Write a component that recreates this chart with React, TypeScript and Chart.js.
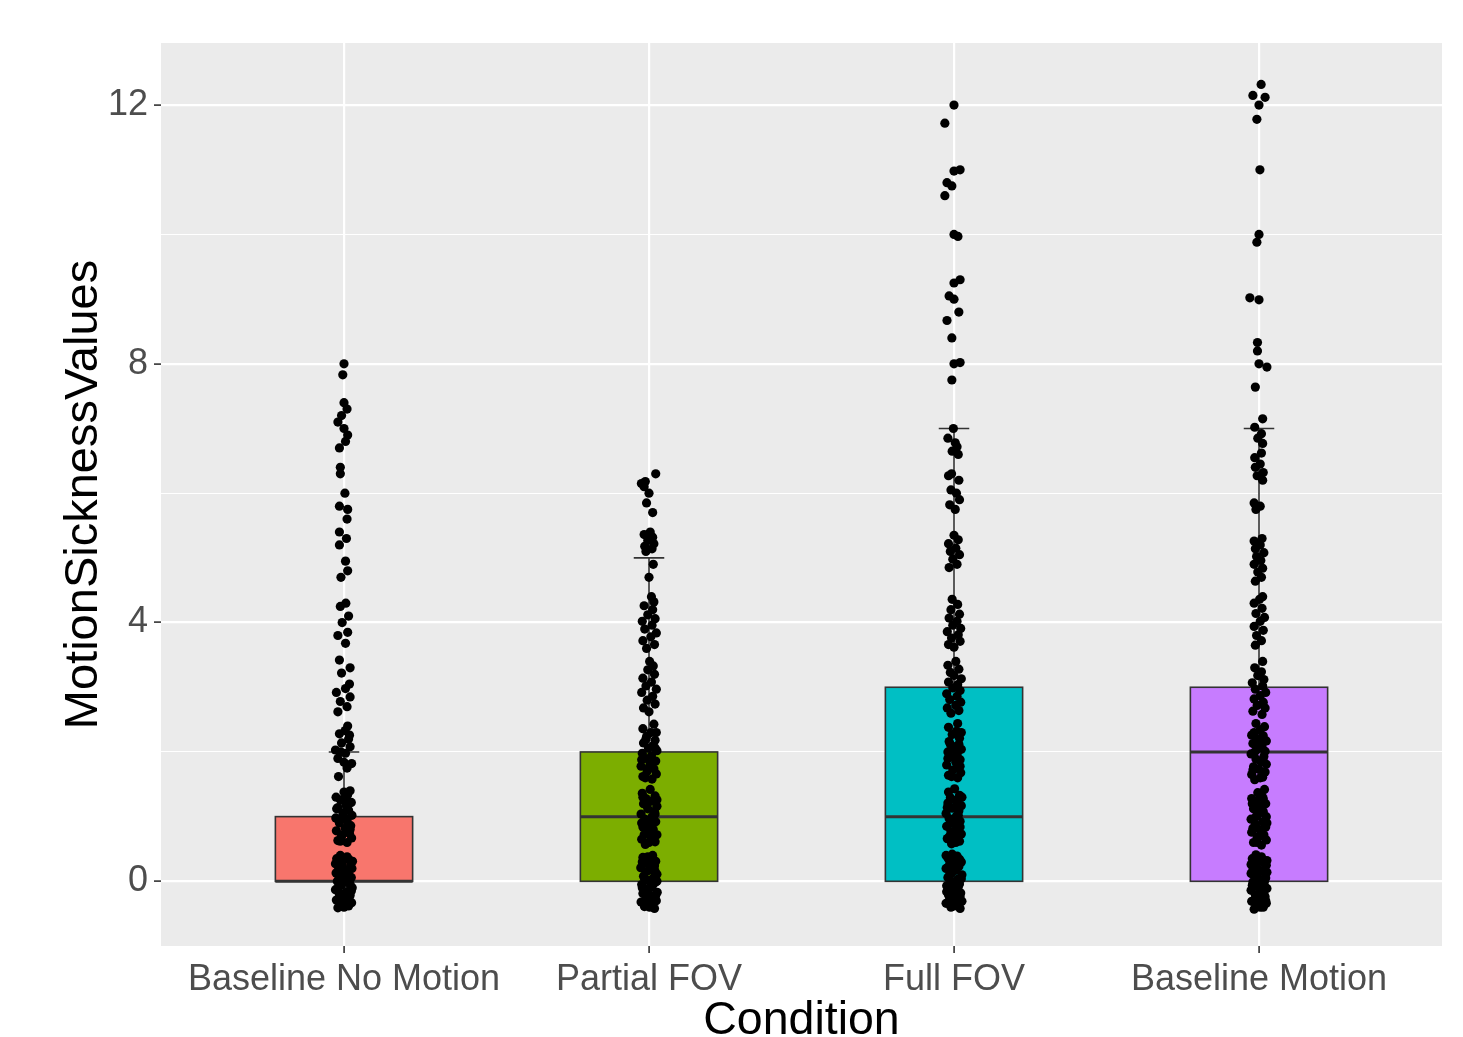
import React, { useEffect, useRef } from 'react';
import { Chart, registerables } from 'chart.js';

Chart.register(...registerables);

// ---------- data ----------
const categories = ['Baseline No Motion', 'Partial FOV', 'Full FOV', 'Baseline Motion'];
const boxColors = ['#F8766D', '#7CAE00', '#00BFC4', '#C77CFF'];
const whiskerLow = [0, 0, 0, 0];
const q1 = [0, 0, 0, 0];
const medians = [0, 1, 1, 2];
const q3 = [1, 2, 3, 3];
const whiskerHigh = [2, 5, 7, 7];
const yTickValues = [0, 2, 4, 6, 8, 10, 12];
const yLabelledTicks = [0, 4, 8, 12];
const xTitle = 'Condition';
const yTitle = 'MotionSicknessValues';

// jittered observations: [horizontal jitter in category units, value]
const baselineNoMotionPoints: [number, number][] = [
  [-0.02, -0.41], [0.015, -0.38], [-0.005, -0.35], [0.025, -0.33], [-0.025, -0.29], [0.005, -0.26], [0.02, -0.22], [-0.015, -0.2],
  [0.01, -0.16], [-0.028, -0.13], [0.027, -0.1], [-0.008, -0.06], [0.018, -0.03], [-0.022, 0.0], [0.006, 0.03], [0.024, 0.06],
  [-0.012, 0.09], [-0.026, 0.13], [0.014, 0.16], [0.001, 0.19], [-0.018, 0.22], [0.022, 0.26], [-0.006, 0.29], [0.028, 0.31],
  [-0.024, 0.35], [0.01, 0.38], [-0.012, 0.4], [0.02, -0.05],
  [0.0, -0.4], [-0.01, -0.3], [0.015, -0.24], [-0.02, -0.11], [0.024, -0.15], [0.0, -0.19], [-0.016, 0.05], [0.01, 0.11],
  [0.026, 0.2], [-0.008, 0.24], [0.016, 0.34], [-0.028, 0.27],
  [0.01, 0.6], [-0.02, 0.63], [0.025, 0.67], [-0.008, 0.7], [0.018, 0.74], [-0.025, 0.78], [0.004, 0.82], [0.022, 0.86],
  [-0.015, 0.9], [0.01, 0.94], [-0.027, 0.98], [0.026, 1.02], [-0.004, 1.06], [0.015, 1.1], [-0.02, 1.14], [0.006, 1.18],
  [0.024, 1.22], [-0.012, 1.26], [-0.026, 1.3], [0.012, 1.34], [0.0, 1.38], [0.02, 1.4],
  [-0.012, 0.62], [0.02, 0.8], [-0.02, 0.96], [0.0, 1.0], [0.016, 1.2], [-0.024, 1.12], [0.006, 1.3], [-0.006, 0.72],
  [-0.018, 1.62], [0.01, 1.75], [0.025, 1.82], [-0.02, 1.9], [0.005, 1.98], [-0.028, 2.03], [0.02, 2.08], [-0.008, 2.14],
  [0.015, 2.2], [-0.015, 2.28], [0.004, 2.33], [0.012, 2.4], [0.0, 1.84], [-0.01, 2.0], [0.018, 2.26],
  [-0.02, 2.62], [0.01, 2.7], [-0.012, 2.78], [0.02, 2.85], [-0.025, 2.92], [0.005, 2.98], [0.018, 3.05], [-0.008, 3.22],
  [0.02, 3.3], [-0.015, 3.42],
  [0.005, 3.68], [-0.02, 3.8], [0.012, 3.85], [-0.006, 4.0], [0.015, 4.1], [-0.012, 4.25], [0.006, 4.3],
  [-0.01, 4.7], [0.012, 4.8], [0.005, 4.95], [-0.015, 5.2], [0.008, 5.3], [-0.015, 5.4],
  [0.01, 5.6], [0.012, 5.75], [-0.015, 5.8], [0.003, 6.0], [-0.012, 6.3], [-0.012, 6.4],
  [-0.015, 6.7], [0.005, 6.8], [0.012, 6.9], [0.0, 7.0], [-0.02, 7.1], [-0.008, 7.2], [0.01, 7.3], [0.0, 7.4],
  [-0.004, 7.83], [0.0, 8.0],
];

const partialFovPoints: [number, number][] = [
  [0.018, -0.42], [-0.015, -0.39], [0.006, -0.36], [-0.026, -0.32], [0.024, -0.3], [-0.004, -0.27], [0.012, -0.23], [-0.02, -0.19],
  [0.027, -0.17], [-0.01, -0.12], [0.008, -0.09], [-0.024, -0.05], [0.02, -0.02], [-0.002, 0.01], [0.014, 0.05], [-0.018, 0.08],
  [0.026, 0.11], [-0.008, 0.15], [0.004, 0.18], [-0.027, 0.21], [0.018, 0.24], [-0.012, 0.28], [0.022, 0.31], [0.0, 0.34],
  [-0.02, 0.37], [0.012, 0.4], [-0.006, -0.15], [0.016, 0.2],
  [0.002, -0.4], [-0.012, -0.3], [0.022, -0.22], [-0.022, -0.1], [0.012, -0.06], [0.0, -0.2], [-0.014, 0.03], [0.02, 0.15],
  [-0.022, 0.3], [0.008, 0.27], [-0.004, 0.38], [0.026, 0.0],
  [-0.012, 0.57], [0.02, 0.61], [-0.024, 0.65], [0.006, 0.69], [0.026, 0.72], [-0.006, 0.76], [0.014, 0.8], [-0.02, 0.84],
  [0.002, 0.88], [0.022, 0.92], [-0.014, 0.96], [0.01, 1.0], [-0.026, 1.04], [0.018, 1.08], [-0.004, 1.12], [0.026, 1.16],
  [-0.018, 1.2], [0.008, 1.24], [-0.01, 1.28], [0.02, 1.32], [-0.022, 1.36], [0.004, 1.42],
  [0.0, 0.6], [-0.016, 0.72], [0.012, 0.9], [-0.024, 0.9], [0.02, 1.04], [-0.008, 1.18], [0.026, 1.26], [-0.02, 1.3],
  [0.01, 1.58], [-0.02, 1.62], [0.024, 1.66], [-0.006, 1.7], [0.016, 1.74], [-0.026, 1.78], [0.004, 1.82], [0.022, 1.86],
  [-0.014, 1.9], [0.008, 1.94], [-0.022, 1.98], [0.026, 2.02], [-0.002, 2.06], [0.014, 2.1], [-0.018, 2.14], [0.02, 2.18],
  [-0.008, 2.24], [0.006, 2.3], [-0.02, 2.36], [0.016, 2.43],
  [-0.012, 1.6], [0.0, 1.76], [-0.024, 1.88], [0.02, 2.06], [-0.01, 2.2], [0.024, 2.3],
  [0.0, 2.62], [-0.018, 2.68], [0.02, 2.74], [-0.006, 2.8], [0.012, 2.86], [-0.024, 2.92], [0.024, 2.97], [-0.01, 3.02],
  [0.008, 3.08], [-0.02, 3.14], [0.018, 3.2], [-0.004, 3.27], [0.014, 3.33], [0.002, 3.4],
  [-0.008, 3.6], [0.018, 3.66], [-0.02, 3.72], [0.006, 3.78], [0.024, 3.84], [-0.014, 3.9], [0.01, 3.96], [-0.022, 4.02],
  [0.02, 4.06], [-0.004, 4.12], [0.012, 4.2], [-0.016, 4.26], [0.016, 4.32], [0.008, 4.4],
  [0.0, 4.7], [0.014, 4.9], [-0.01, 5.1], [0.01, 5.14], [-0.014, 5.18], [0.016, 5.22], [-0.004, 5.27], [0.012, 5.32],
  [-0.016, 5.36], [0.004, 5.4],
  [0.012, 5.7], [-0.008, 5.85], [0.0, 6.0], [-0.016, 6.1], [-0.025, 6.15], [-0.012, 6.18], [0.022, 6.3],
];

const fullFovPoints: [number, number][] = [
  [0.02, -0.42], [-0.01, -0.4], [0.008, -0.37], [-0.026, -0.34], [0.026, -0.31], [-0.004, -0.28], [0.014, -0.25], [-0.018, -0.21],
  [0.022, -0.18], [-0.012, -0.14], [0.004, -0.11], [-0.024, -0.07], [0.018, -0.04], [-0.002, -0.01], [0.012, 0.03], [-0.02, 0.06],
  [0.026, 0.1], [-0.008, 0.13], [0.006, 0.17], [-0.026, 0.2], [0.016, 0.23], [-0.014, 0.27], [0.024, 0.3], [0.002, 0.33],
  [-0.02, 0.36], [0.01, 0.39], [-0.006, 0.42], [0.018, -0.3],
  [0.0, -0.38], [-0.016, -0.3], [0.02, -0.24], [-0.024, -0.16], [0.014, -0.08], [-0.008, -0.04], [0.024, 0.04], [-0.014, 0.1],
  [0.0, 0.22], [0.018, 0.34], [-0.026, 0.4], [0.008, -0.18],
  [-0.008, 0.58], [0.018, 0.62], [-0.022, 0.66], [0.004, 0.7], [0.024, 0.73], [-0.01, 0.77], [0.012, 0.81], [-0.024, 0.85],
  [0.0, 0.89], [0.02, 0.93], [-0.016, 0.97], [0.008, 1.01], [-0.026, 1.05], [0.016, 1.09], [-0.006, 1.13], [0.024, 1.17],
  [-0.02, 1.21], [0.006, 1.25], [-0.012, 1.29], [0.018, 1.33], [-0.018, 1.38], [0.002, 1.43],
  [0.006, 0.6], [-0.014, 0.7], [0.02, 0.84], [-0.006, 0.94], [0.014, 1.02], [-0.022, 1.14], [0.01, 1.2], [0.026, 1.3],
  [0.012, 1.6], [-0.018, 1.64], [0.022, 1.68], [-0.004, 1.72], [0.014, 1.76], [-0.024, 1.8], [0.006, 1.84], [0.02, 1.88],
  [-0.012, 1.92], [0.01, 1.96], [-0.02, 2.0], [0.024, 2.04], [0.0, 2.08], [0.016, 2.12], [-0.016, 2.16], [0.018, 2.21],
  [-0.006, 2.27], [0.008, 2.32], [-0.018, 2.38], [0.012, 2.44],
  [-0.008, 1.62], [0.02, 1.78], [-0.02, 1.9], [0.006, 2.02], [-0.012, 2.12], [0.024, 2.3],
  [-0.01, 2.6], [0.016, 2.64], [-0.022, 2.68], [0.006, 2.72], [0.022, 2.77], [-0.014, 2.81], [0.01, 2.86], [-0.024, 2.9],
  [0.02, 2.95], [-0.004, 2.99], [0.012, 3.04], [-0.018, 3.08], [0.024, 3.13], [0.0, 3.18], [-0.012, 3.23], [0.016, 3.28],
  [-0.02, 3.34], [0.006, 3.4],
  [0.0, 3.62], [-0.018, 3.66], [0.02, 3.71], [-0.008, 3.76], [0.014, 3.81], [-0.022, 3.86], [0.022, 3.91], [-0.004, 3.96],
  [0.01, 4.02], [-0.016, 4.07], [0.018, 4.13], [-0.01, 4.2], [0.012, 4.28], [-0.006, 4.36],
  [-0.016, 4.85], [0.01, 4.9], [-0.004, 4.98], [0.018, 5.05], [-0.012, 5.1], [0.006, 5.15], [-0.018, 5.22], [0.014, 5.28],
  [0.0, 5.35],
  [0.004, 5.75], [-0.014, 5.82], [0.018, 5.9], [0.008, 6.0], [-0.01, 6.05], [0.016, 6.2], [-0.018, 6.27], [-0.008, 6.3],
  [0.014, 6.6],
  [-0.006, 6.65], [0.01, 6.72], [0.004, 6.78], [-0.02, 6.85], [-0.002, 7.0],
  [-0.007, 7.75], [0.0, 8.0], [0.02, 8.02], [-0.007, 8.4], [-0.023, 8.67], [0.016, 8.8], [0.0, 9.0], [-0.016, 9.05],
  [0.0, 9.25], [0.02, 9.3], [0.013, 9.97], [0.0, 10.0], [-0.03, 10.6], [-0.007, 10.75], [-0.023, 10.8], [0.0, 10.98],
  [0.02, 11.0], [-0.03, 11.72], [0.0, 12.0],
];

const baselineMotionPoints: [number, number][] = [
  [-0.016, -0.43], [0.014, -0.4], [-0.002, -0.37], [0.024, -0.34], [-0.024, -0.31], [0.008, -0.28], [0.02, -0.24], [-0.012, -0.21],
  [0.004, -0.17], [-0.026, -0.14], [0.026, -0.11], [-0.006, -0.08], [0.016, -0.04], [-0.02, -0.01], [0.002, 0.02], [0.022, 0.05],
  [-0.01, 0.09], [-0.026, 0.12], [0.012, 0.15], [-0.002, 0.19], [-0.016, 0.22], [0.024, 0.25], [-0.008, 0.29], [0.026, 0.32],
  [-0.022, 0.35], [0.008, 0.38], [-0.01, 0.41], [0.018, 0.0],
  [0.004, -0.4], [-0.012, -0.3], [0.016, -0.2], [-0.022, -0.06], [0.01, -0.1], [-0.004, 0.06], [0.026, 0.14], [-0.02, 0.18],
  [0.014, 0.3], [-0.004, 0.36], [0.022, -0.3], [-0.026, 0.26],
  [0.008, 0.56], [-0.018, 0.6], [0.024, 0.64], [-0.006, 0.68], [0.016, 0.72], [-0.024, 0.76], [0.002, 0.8], [0.022, 0.84],
  [-0.012, 0.88], [0.012, 0.92], [-0.026, 0.96], [0.024, 1.0], [-0.002, 1.04], [0.014, 1.08], [-0.018, 1.12], [0.004, 1.16],
  [0.022, 1.2], [-0.01, 1.24], [-0.024, 1.28], [0.01, 1.32], [-0.004, 1.37], [0.018, 1.42],
  [-0.006, 0.6], [0.012, 0.7], [-0.02, 0.82], [0.026, 0.9], [-0.01, 1.0], [0.006, 1.1], [-0.022, 1.2], [0.014, 1.28],
  [-0.014, 1.57], [0.012, 1.61], [-0.024, 1.65], [0.02, 1.69], [0.0, 1.73], [-0.018, 1.77], [0.024, 1.81], [0.006, 1.85],
  [-0.01, 1.89], [0.016, 1.93], [-0.026, 1.97], [0.02, 2.01], [-0.004, 2.05], [0.01, 2.09], [-0.02, 2.13], [0.024, 2.17],
  [-0.008, 2.21], [0.014, 2.25], [-0.016, 2.3], [0.004, 2.34], [0.018, 2.39], [-0.01, 2.44],
  [0.004, 1.6], [-0.02, 1.72], [0.014, 1.86], [-0.014, 2.0], [0.006, 2.16], [-0.024, 2.26],
  [0.01, 2.58], [-0.02, 2.63], [0.02, 2.68], [-0.006, 2.72], [0.014, 2.77], [-0.016, 2.82], [0.004, 2.87], [0.022, 2.92],
  [-0.012, 2.97], [0.012, 3.02], [-0.022, 3.07], [0.016, 3.12], [-0.004, 3.18], [0.008, 3.24], [-0.014, 3.3], [0.012, 3.4],
  [-0.012, 3.65], [0.008, 3.72], [-0.008, 3.8], [0.014, 3.88], [-0.016, 3.94], [0.004, 4.02], [0.018, 4.08], [-0.01, 4.14],
  [0.01, 4.22], [-0.016, 4.3], [0.002, 4.36], [0.012, 4.4],
  [-0.012, 4.64], [0.008, 4.7], [-0.004, 4.78], [0.012, 4.84], [-0.016, 4.9], [0.006, 4.96], [-0.008, 5.02], [0.016, 5.08],
  [-0.012, 5.14], [0.004, 5.2], [-0.016, 5.26], [0.01, 5.3],
  [-0.01, 5.75], [0.004, 5.8], [-0.016, 5.85], [0.012, 6.2], [-0.006, 6.27], [0.014, 6.32], [-0.012, 6.4], [0.004, 6.45],
  [-0.014, 6.55], [0.008, 6.62],
  [0.012, 6.77], [-0.004, 6.85], [0.008, 6.92], [-0.014, 7.02], [0.012, 7.15],
  [-0.012, 7.64], [0.026, 7.95], [0.0, 8.0], [-0.005, 8.2], [-0.005, 8.33], [0.0, 8.99], [-0.03, 9.02], [-0.007, 9.88],
  [0.0, 10.0], [0.003, 11.0], [-0.007, 11.78], [0.0, 12.0], [0.02, 12.12], [-0.02, 12.15], [0.007, 12.32],
];

const groupPoints = [baselineNoMotionPoints, partialFovPoints, fullFovPoints, baselineMotionPoints];

// ---------- styling ----------
const FONT = "'Liberation Sans', Arial, Helvetica, sans-serif";
const PANEL_BG = '#EBEBEB';
const BOX_WIDTH = 0.45;
const CAP_WIDTH = 0.1;

const ggBoxPlugin = {
  id: 'ggBox',
  beforeDraw(chart: any) {
    const { ctx, chartArea } = chart;
    ctx.save();
    ctx.fillStyle = PANEL_BG;
    ctx.fillRect(chartArea.left, chartArea.top, chartArea.right - chartArea.left, chartArea.bottom - chartArea.top);
    ctx.restore();
  },
  beforeDatasetsDraw(chart: any) {
    const { ctx } = chart;
    const xs = chart.scales.x;
    const ys = chart.scales.y;
    ctx.save();
    categories.forEach((_, i) => {
      const c = i + 1;
      const xc = xs.getPixelForValue(c);
      ctx.strokeStyle = '#333333';
      ctx.lineWidth = 1.6;
      ctx.beginPath();
      ctx.moveTo(xc, ys.getPixelForValue(whiskerLow[i]));
      ctx.lineTo(xc, ys.getPixelForValue(whiskerHigh[i]));
      const cl = xs.getPixelForValue(c - CAP_WIDTH / 2);
      const cr = xs.getPixelForValue(c + CAP_WIDTH / 2);
      [whiskerLow[i], whiskerHigh[i]].forEach((v) => {
        const yy = ys.getPixelForValue(v);
        ctx.moveTo(cl, yy);
        ctx.lineTo(cr, yy);
      });
      ctx.stroke();
      const bl = xs.getPixelForValue(c - BOX_WIDTH / 2);
      const br = xs.getPixelForValue(c + BOX_WIDTH / 2);
      const yTop = ys.getPixelForValue(q3[i]);
      const yBot = ys.getPixelForValue(q1[i]);
      ctx.fillStyle = boxColors[i];
      ctx.fillRect(bl, yTop, br - bl, yBot - yTop);
      ctx.strokeStyle = '#333333';
      ctx.lineWidth = 1.6;
      ctx.strokeRect(bl, yTop, br - bl, yBot - yTop);
      const ym = ys.getPixelForValue(medians[i]);
      ctx.lineWidth = 3;
      ctx.beginPath();
      ctx.moveTo(bl, ym);
      ctx.lineTo(br, ym);
      ctx.stroke();
    });
    ctx.restore();
  },
};

export default function App() {
  const canvasRef = useRef<HTMLCanvasElement | null>(null);

  useEffect(() => {
    const canvas = canvasRef.current;
    if (!canvas) return;
    const datasets = groupPoints.map((pts, i) => ({
      label: categories[i],
      data: pts.map(([dx, v]) => ({ x: i + 1 + dx, y: v })),
      pointRadius: 4.6,
      pointHoverRadius: 4.6,
      pointBackgroundColor: '#000000',
      pointBorderWidth: 0,
      showLine: false,
    }));

    const chart = new Chart(canvas, {
      type: 'scatter',
      data: { datasets },
      plugins: [ggBoxPlugin],
      options: {
        animation: false,
        responsive: false,
        maintainAspectRatio: false,
        events: [],
        layout: { padding: { top: 43, right: 21, left: 0, bottom: 0 } },
        plugins: { legend: { display: false }, tooltip: { enabled: false } },
        scales: {
          x: {
            type: 'linear',
            min: 0.4,
            max: 4.6,
            afterBuildTicks: (scale: any) => {
              scale.ticks = categories.map((_, i) => ({ value: i + 1 }));
            },
            afterFit: (scale: any) => {
              scale.height = 91;
            },
            ticks: {
              autoSkip: false,
              maxRotation: 0,
              minRotation: 0,
              padding: 5,
              color: '#4D4D4D',
              font: { family: FONT, size: 36 },
              callback: (v: any) => categories[Math.round(Number(v)) - 1] ?? '',
            },
            grid: {
              color: '#FFFFFF',
              lineWidth: 2.2,
              drawTicks: true,
              tickLength: 7,
              tickColor: '#333333',
              tickWidth: 1.6,
            },
            border: { display: false },
            title: {
              display: true,
              text: xTitle,
              color: '#000000',
              font: { family: FONT, size: 46.5, lineHeight: 1 },
              padding: { top: 0, bottom: -7 },
            },
          },
          y: {
            type: 'linear',
            min: -1.0,
            max: 12.96,
            afterBuildTicks: (scale: any) => {
              scale.ticks = yTickValues.map((v) => ({ value: v }));
            },
            afterFit: (scale: any) => {
              scale.width = 161;
            },
            ticks: {
              autoSkip: false,
              padding: 6,
              color: '#4D4D4D',
              font: { family: FONT, size: 36 },
              callback: (v: any) => (yLabelledTicks.includes(Number(v)) ? String(v) : ''),
            },
            grid: {
              color: '#FFFFFF',
              lineWidth: (c: any) => (c.tick && yLabelledTicks.includes(c.tick.value) ? 2.2 : 1.1),
              drawTicks: true,
              tickLength: 7,
              tickColor: (c: any) => (c.tick && yLabelledTicks.includes(c.tick.value) ? '#333333' : 'rgba(0,0,0,0)'),
              tickWidth: 1.6,
            },
            border: { display: false },
            title: {
              display: true,
              text: yTitle,
              color: '#000000',
              font: { family: FONT, size: 47, lineHeight: 1 },
              padding: { top: 61, bottom: 0 },
            },
          },
        },
      } as any,
    });
    return () => chart.destroy();
  }, []);

  return (
    <div style={{ position: 'fixed', left: 0, top: 0, width: 1463, height: 1037, background: '#FFFFFF' }}>
      <canvas ref={canvasRef} width={1463} height={1037} style={{ display: 'block', width: 1463, height: 1037 }} />
    </div>
  );
}
